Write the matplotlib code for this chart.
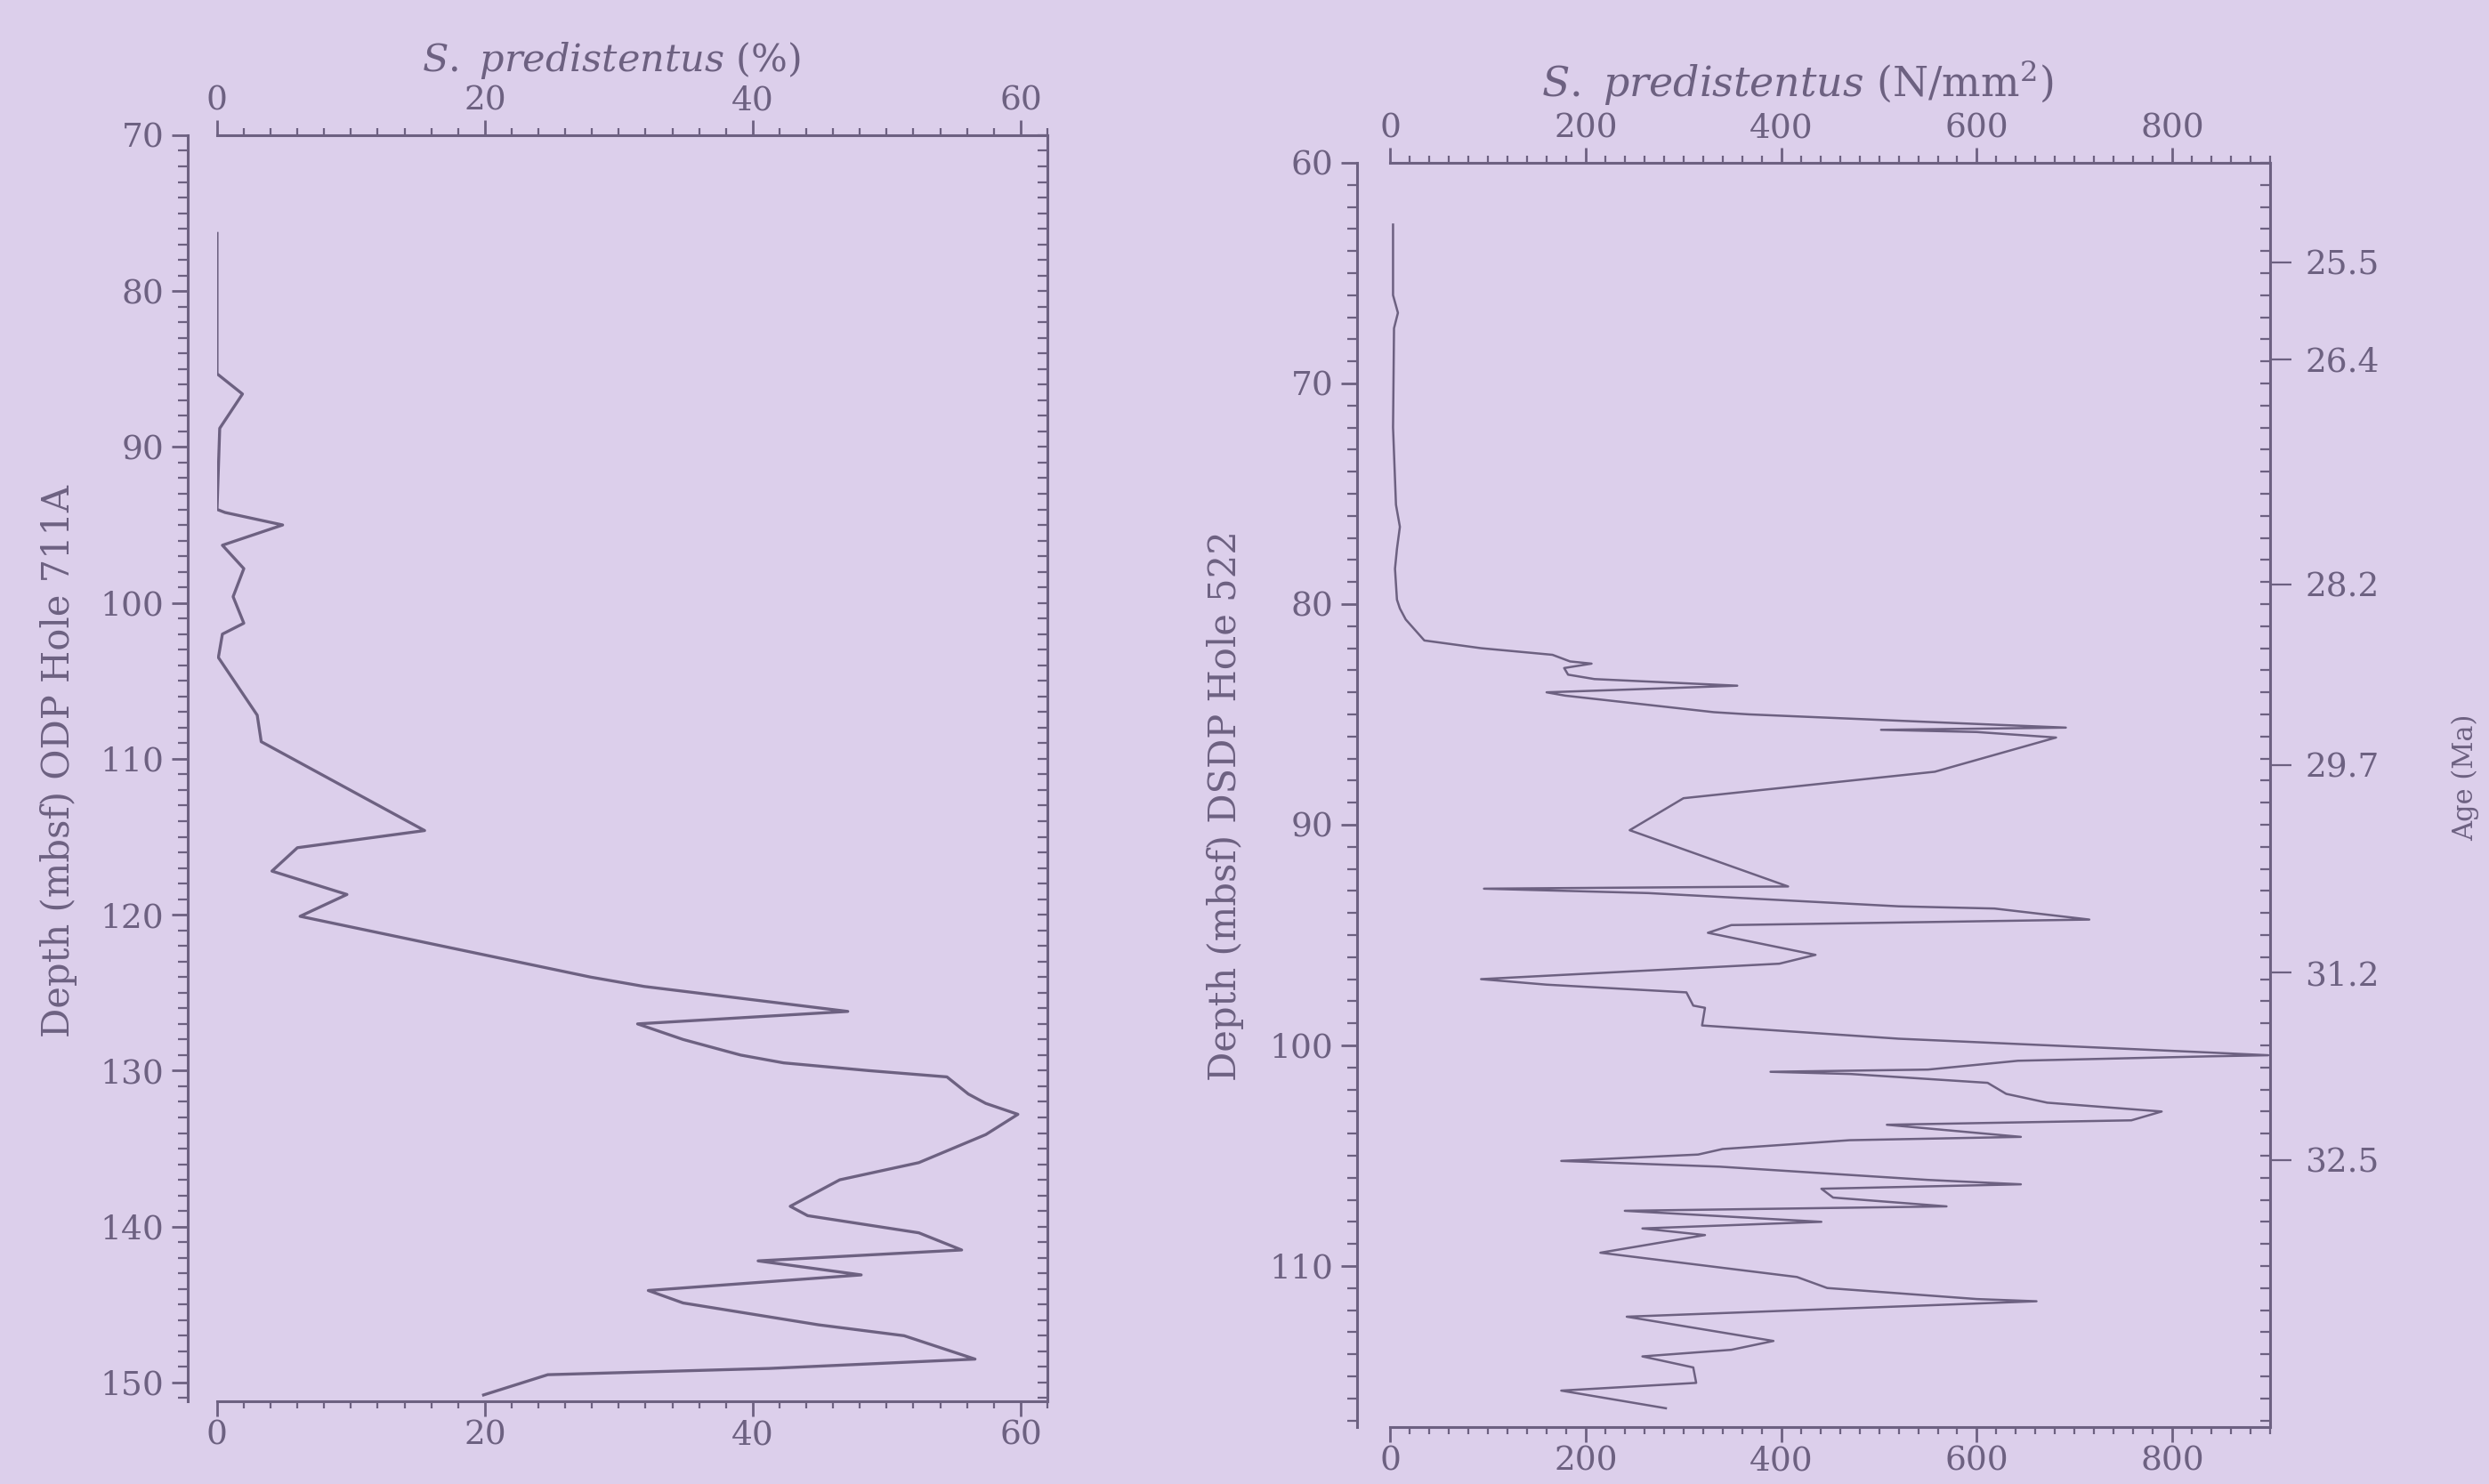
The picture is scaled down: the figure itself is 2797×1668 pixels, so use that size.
import matplotlib.pyplot as plt
from matplotlib.ticker import MultipleLocator, FixedLocator, NullLocator

# ODP Hole 711A: S. predistentus abundance (%) against depth (mbsf)
depth_711 = [76.3, 85.3, 86.6, 88.8, 94.0, 94.2, 95.0, 96.3, 97.8, 99.6,
             101.3, 102.0, 103.5, 107.2, 108.9, 114.6, 115.7, 117.2, 118.7, 120.1,
             124.0, 124.6, 126.2, 127.0, 128.0, 129.0, 129.5, 130.0, 130.4, 131.5,
             132.1, 132.8, 134.1, 135.9, 137.0, 138.7, 139.3, 140.4, 141.5, 142.2,
             143.1, 144.1, 144.9, 146.3, 147.0, 148.5, 149.1, 149.5, 150.8]
pct_711 = [0.0, 0.0, 1.9, 0.2, 0.0, 0.6, 4.9, 0.4, 2.0, 1.2,
           2.0, 0.4, 0.1, 3.0, 3.3, 15.5, 6.0, 4.1, 9.7, 6.2,
           27.9, 31.9, 47.1, 31.4, 34.8, 39.1, 42.3, 48.7, 54.5, 56.1,
           57.4, 59.8, 57.4, 52.4, 46.5, 42.8, 44.1, 52.4, 55.6, 40.4,
           48.1, 32.2, 34.8, 44.9, 51.3, 56.6, 41.2, 24.7, 19.9]

# DSDP Hole 522: S. predistentus accumulation (N/mm2) against depth (mbsf)
depth_522 = [62.8, 66.0, 66.8, 67.5, 72.0, 75.5, 76.5, 77.5, 78.4, 79.8,
             80.2, 80.7, 81.65, 82.0, 82.3, 82.6, 82.7, 82.9, 83.2, 83.4,
             83.7, 83.9, 84.0, 84.15, 84.9, 85.0, 85.4, 85.6, 85.7, 85.8,
             86.05, 87.6, 88.8, 90.25, 92.8, 92.9, 93.1, 93.7, 93.8, 94.3,
             94.55, 94.9, 95.9, 96.3, 97.0, 97.25, 97.6, 98.2, 98.3, 99.1,
             99.7, 100.3, 100.45, 100.5, 100.7, 101.1, 101.2, 101.3, 101.7, 102.2,
             102.6, 103.0, 103.4, 103.6, 104.15, 104.3, 104.7, 104.95, 105.24, 105.5,
             106.1, 106.3, 106.5, 106.9, 107.3, 107.5, 108.0, 108.3, 108.6, 109.4,
             110.5, 111.0, 111.5, 111.6, 112.3, 113.4, 113.8, 114.1, 114.6, 115.3,
             115.65, 116.45]
abund_522 = [3, 3, 8, 4, 3, 6, 10, 7, 5, 7,
             10, 16, 35, 93, 166, 184, 206, 178, 182, 209,
             355, 227, 160, 179, 331, 367, 581, 691, 502, 600,
             681, 557, 300, 245, 407, 96, 264, 520, 618, 715,
             349, 325, 435, 398, 93, 160, 303, 310, 322, 319,
             520, 825, 898, 837, 642, 550, 389, 471, 611, 630,
             672, 789, 758, 508, 645, 470, 340, 315, 175, 337,
             550, 645, 441, 453, 569, 240, 441, 258, 322, 215,
             416, 447, 600, 661, 242, 392, 349, 258, 310, 313,
             175, 282]

# age control points (Ma) on the Hole 522 depth scale
age_depths = [64.5, 68.9, 79.1, 87.3, 96.7, 105.2]
age_labels = ['25.5', '26.4', '28.2', '29.7', '31.2', '32.5']

bg = '#dccfeb'
ink = '#6d6181'

plt.rcParams['font.family'] = 'DejaVu Serif'
plt.rcParams['mathtext.fontset'] = 'custom'
plt.rcParams['mathtext.rm'] = 'DejaVu Serif'
plt.rcParams['mathtext.it'] = 'DejaVu Serif:italic'

fig = plt.figure(figsize=(27.97, 16.68), dpi=100, facecolor=bg)
ax1 = fig.add_axes([0.0872, 0.0558, 0.3336, 0.8531])
ax2 = fig.add_axes([0.5585, 0.0384, 0.3536, 0.8519])


def style(ax, xlim, ylim, xmaj, xmin, offset, right_major=None, right_labels=None):
    ax.set_facecolor(bg)
    ax.set_xlim(*xlim)
    ax.set_ylim(*ylim)
    for s in ax.spines.values():
        s.set_color(ink)
        s.set_linewidth(2.2)
    ax.spines['left'].set_position(('outward', offset))

    ax.xaxis.set_major_locator(MultipleLocator(xmaj))
    ax.xaxis.set_minor_locator(MultipleLocator(xmin))
    ax.yaxis.set_major_locator(MultipleLocator(10))
    ax.yaxis.set_minor_locator(MultipleLocator(1))

    ax.tick_params(axis='x', which='both', direction='out', top=True, bottom=True,
                   labeltop=True, labelbottom=True, colors=ink, labelsize=27)
    ax.tick_params(axis='x', which='major', length=12, width=2, pad=3)
    ax.tick_params(axis='x', which='minor', length=6, width=1.6)
    ax.tick_params(axis='y', which='both', direction='out', left=True, right=False,
                   colors=ink, labelsize=27)
    ax.tick_params(axis='y', which='major', length=13, width=2, pad=6)
    ax.tick_params(axis='y', which='minor', length=8, width=1.6)

    # right-hand spine: small inward ticks, optional labelled age ticks
    tw = ax.twinx()
    tw.set_ylim(*ylim)
    for s in tw.spines.values():
        s.set_visible(False)
    tw.yaxis.set_minor_locator(MultipleLocator(1))
    if right_major is None:
        tw.yaxis.set_major_locator(NullLocator())
    else:
        tw.yaxis.set_major_locator(FixedLocator(right_major))
        tw.set_yticklabels(right_labels)
    tw.tick_params(axis='y', which='minor', direction='in', length=8, width=1.6,
                   colors=ink)
    tw.tick_params(axis='y', which='major', direction='out', length=17, width=1.6,
                   colors=ink, labelsize=27, pad=11)
    return tw


style(ax1, (0, 62), (151.2, 70), 20, 2, 24)
ax1.plot(pct_711, depth_711, color=ink, lw=2.4, solid_joinstyle='round')

style(ax2, (0, 900), (117.3, 60), 200, 20, 27, age_depths, age_labels)
ax2.plot(abund_522, depth_522, color=ink, lw=1.8, solid_joinstyle='round')

fig.text(0.2456, 0.959, r'$\mathit{S.\ predistentus}$ (%)', color=ink,
         fontsize=31, ha='center', va='center')
fig.text(0.722, 0.944, r'$\mathit{S.\ predistentus}$ (N/mm$^2$)', color=ink,
         fontsize=33, ha='center', va='center')
fig.text(0.0236, 0.487, 'Depth (mbsf) ODP Hole 711A', color=ink, fontsize=30,
         rotation=90, ha='center', va='center')
fig.text(0.4924, 0.457, 'Depth (mbsf) DSDP Hole 522', color=ink, fontsize=30,
         rotation=90, ha='center', va='center')
fig.text(0.9906, 0.476, 'Age (Ma)', color=ink, fontsize=22,
         rotation=90, ha='center', va='center')

fig.savefig('out.png', dpi=100, facecolor=bg)
